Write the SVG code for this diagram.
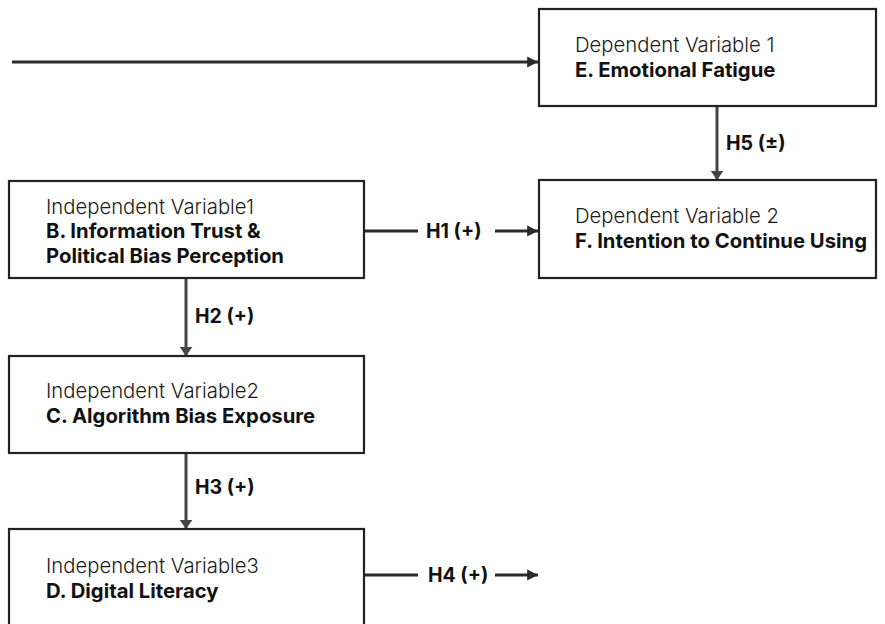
<svg xmlns="http://www.w3.org/2000/svg" width="885" height="624" viewBox="0 0 885 624">
<style>
.box{fill:#fff;stroke:#222;stroke-width:2.2}
.t{font-family:Inter,"Noto Sans",sans-serif;font-size:20.3px;fill:#1a1a1a;font-weight:300}
.b{font-family:Inter,"Noto Sans",sans-serif;font-size:20.3px;fill:#111;font-weight:700}
.lab{font-family:Inter,"Noto Sans",sans-serif;font-size:19.5px;fill:#111;font-weight:700}
.c{stroke:#2a2a2a;stroke-width:3;fill:none}
.v{stroke:#444;stroke-width:3;fill:none}
</style>
<defs>
<marker id="ah" viewBox="0 0 10 10" refX="10" refY="5" markerWidth="3.6" markerHeight="3.8" orient="auto" markerUnits="strokeWidth">
<path d="M0,0 L10,5 L0,10 z" fill="#2a2a2a"/>
</marker>
<marker id="av" viewBox="0 0 10 14" refX="10" refY="7" markerWidth="3" markerHeight="4.8" orient="auto" markerUnits="strokeWidth">
<path d="M0,0 L10,7 L0,14 z" fill="#444"/>
</marker>
</defs>
<rect width="885" height="624" fill="#fff"/>
<g id="connectors">
<line class="c" x1="12" y1="62" x2="538" y2="62" marker-end="url(#ah)"/>
<line class="v" x1="717" y1="106" x2="717" y2="180" marker-end="url(#av)"/>
<line class="c" x1="364" y1="231" x2="418" y2="231"/>
<line class="c" x1="495" y1="231" x2="538" y2="231" marker-end="url(#ah)"/>
<line class="v" x1="186" y1="278" x2="186" y2="356" marker-end="url(#av)"/>
<line class="v" x1="186" y1="453" x2="186" y2="529" marker-end="url(#av)"/>
<line class="c" x1="364" y1="575" x2="418" y2="575"/>
<line class="c" x1="495" y1="575" x2="538" y2="575" marker-end="url(#ah)"/>
<text class="lab" x="726" y="150">H5 (±)</text>
<text class="lab" x="426" y="238">H1 (+)</text>
<text class="lab" x="195" y="323">H2 (+)</text>
<text class="lab" x="195" y="494">H3 (+)</text>
<text class="lab" x="428" y="582">H4 (+)</text>
</g>
<g id="nodeE">
<rect class="box" x="539" y="9" width="337" height="97"/>
<text class="t" x="575" y="52">Dependent Variable 1</text>
<text class="b" x="575" y="77">E. Emotional Fatigue</text>
</g>
<g id="nodeF">
<rect class="box" x="539" y="180" width="337" height="98"/>
<text class="t" x="575" y="223">Dependent Variable 2</text>
<text class="b" x="575" y="248">F. Intention to Continue Using</text>
</g>
<g id="nodeB">
<rect class="box" x="9" y="181" width="355" height="97"/>
<text class="t" x="46" y="214">Independent Variable1</text>
<text class="b" x="46" y="238">B. Information Trust &amp;</text>
<text class="b" x="46" y="263">Political Bias Perception</text>
</g>
<g id="nodeC">
<rect class="box" x="9" y="356" width="355" height="97"/>
<text class="t" x="46" y="398">Independent Variable2</text>
<text class="b" x="46" y="423">C. Algorithm Bias Exposure</text>
</g>
<g id="nodeD">
<rect class="box" x="9" y="529" width="355" height="110"/>
<text class="t" x="46" y="573">Independent Variable3</text>
<text class="b" x="46" y="598">D. Digital Literacy</text>
</g>
</svg>
